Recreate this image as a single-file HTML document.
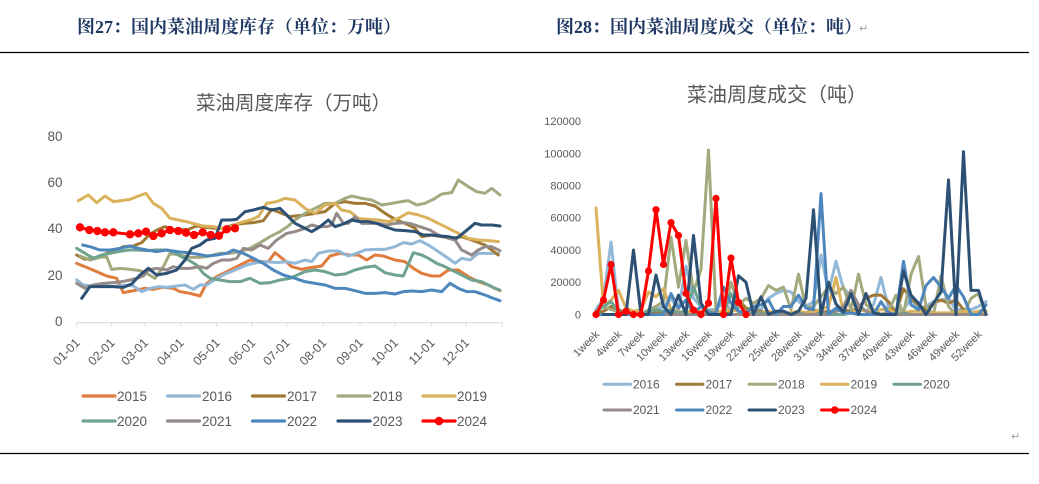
<!DOCTYPE html>
<html><head><meta charset="utf-8"><style>
html,body{margin:0;padding:0;background:#fff;}
svg{display:block;}
.ax{font-family:"Liberation Sans",sans-serif;fill:#595959;}
.hd{font-family:"Liberation Serif","Noto Serif CJK SC",serif;font-weight:bold;fill:#1f3864;font-size:18px;}
.tt{font-family:"Liberation Sans","Noto Sans CJK SC",sans-serif;fill:#595959;}
.s{fill:none;stroke-width:3;stroke-linejoin:round;stroke-linecap:round;vector-effect:non-scaling-stroke;}
</style></head><body>
<svg width="1039" height="484" viewBox="0 0 1039 484" xmlns="http://www.w3.org/2000/svg">
<rect width="1039" height="484" fill="#fff"/>
<!-- headers -->
<text class="hd" x="77" y="33">图27：国内菜油周度库存（单位：万吨）</text>
<text class="hd" x="556" y="33">图28：国内菜油周度成交（单位：吨）</text>
<text x="859" y="32" font-family="DejaVu Sans" font-size="11" fill="#999">↵</text>
<line x1="0" y1="52.5" x2="1029" y2="52.5" stroke="#000" stroke-width="1.2"/>
<line x1="0" y1="453.5" x2="1029" y2="453.5" stroke="#000" stroke-width="1.2"/>
<text x="1011" y="440" font-family="DejaVu Sans" font-size="11" fill="#999">↵</text>

<!-- LEFT CHART -->
<text class="tt" x="196" y="109.5" font-size="19.5">菜油周度库存（万吨）</text>
<g class="ax" font-size="13.5" text-anchor="end">
<text x="62.5" y="141">80</text>
<text x="62.5" y="187">60</text>
<text x="62.5" y="233">40</text>
<text x="62.5" y="280">20</text>
<text x="62.5" y="326">0</text>
</g>
<line x1="76.7" y1="322.7" x2="502.3" y2="322.7" stroke="#d9d9d9" stroke-width="1"/>
<g stroke="#d9d9d9" stroke-width="1">
<line x1="76.7" y1="322.7" x2="76.7" y2="326.5"/><line x1="111.7" y1="322.7" x2="111.7" y2="326.5"/>
<line x1="145" y1="322.7" x2="145" y2="326.5"/><line x1="180.7" y1="322.7" x2="180.7" y2="326.5"/>
<line x1="216.7" y1="322.7" x2="216.7" y2="326.5"/><line x1="252.3" y1="322.7" x2="252.3" y2="326.5"/>
<line x1="286.7" y1="322.7" x2="286.7" y2="326.5"/><line x1="323.3" y1="322.7" x2="323.3" y2="326.5"/>
<line x1="360" y1="322.7" x2="360" y2="326.5"/><line x1="395" y1="322.7" x2="395" y2="326.5"/>
<line x1="431.7" y1="322.7" x2="431.7" y2="326.5"/><line x1="466" y1="322.7" x2="466" y2="326.5"/>
<line x1="502.3" y1="322.7" x2="502.3" y2="326.5"/>
</g>
<g class="ax" font-size="12.5" text-anchor="end">
<text transform="translate(80.7,343.5) rotate(-45)">01-01</text>
<text transform="translate(115.7,343.5) rotate(-45)">02-01</text>
<text transform="translate(149,343.5) rotate(-45)">03-01</text>
<text transform="translate(184.7,343.5) rotate(-45)">04-01</text>
<text transform="translate(220.7,343.5) rotate(-45)">05-01</text>
<text transform="translate(256.3,343.5) rotate(-45)">06-01</text>
<text transform="translate(290.7,343.5) rotate(-45)">07-01</text>
<text transform="translate(327.3,343.5) rotate(-45)">08-01</text>
<text transform="translate(364,343.5) rotate(-45)">09-01</text>
<text transform="translate(399,343.5) rotate(-45)">10-01</text>
<text transform="translate(435.7,343.5) rotate(-45)">11-01</text>
<text transform="translate(470,343.5) rotate(-45)">12-01</text>
</g>
<g transform="translate(0,120) scale(0.333333)">
<polyline class="s" stroke="#e07c3e" points="230,430 260,442 290,455 320,468 350,475 370,518 410,510 435,505 460,508 490,502 520,505 540,515 570,520 600,528 620,490 650,470 680,455 710,440 750,420 780,425 805,425 825,398 850,418 875,440 905,448 935,442 965,438 990,408 1020,400 1050,405 1075,405 1100,420 1125,405 1150,408 1185,420 1215,425 1240,445 1265,460 1295,468 1320,468 1345,450 1375,450 1405,470 1435,485 1465,495 1485,505 1500,512"/>
<polyline class="s" stroke="#92b8d8" points="230,480 250,495 280,498 310,497 340,500 375,495 400,498 425,515 450,505 475,500 500,502 530,498 555,495 580,508 600,495 620,495 650,475 680,460 710,448 740,435 770,428 800,425 830,428 860,425 885,430 915,420 935,425 955,400 985,393 1015,393 1045,408 1070,400 1095,390 1125,388 1155,388 1185,380 1210,368 1235,372 1260,362 1285,375 1315,395 1345,415 1365,430 1385,415 1410,420 1435,400 1465,400 1495,400"/>
<polyline class="s" stroke="#a07935" points="230,405 255,418 290,412 320,400 350,390 370,380 400,378 425,368 450,342 475,328 495,320 515,328 540,330 565,328 590,318 620,322 650,325 670,325 700,315 730,310 760,308 790,302 815,268 840,278 870,290 885,288 915,285 945,280 975,275 1005,250 1035,245 1065,250 1095,250 1125,258 1155,280 1185,298 1215,310 1245,325 1265,350 1295,345 1325,350 1355,355 1385,350 1415,360 1455,375 1495,405"/>
<polyline class="s" stroke="#a3aa7e" points="240,408 270,420 300,412 320,410 335,448 360,445 390,448 420,452 440,460 465,475 490,440 510,400 540,405 570,412 600,412 630,408 660,400 690,400 720,395 750,385 780,368 810,350 840,335 865,318 885,300 915,280 945,265 975,250 1005,250 1035,235 1055,228 1085,235 1115,240 1145,255 1175,250 1205,245 1225,242 1250,255 1275,250 1300,238 1325,222 1355,218 1375,180 1405,200 1430,215 1455,220 1475,205 1500,225"/>
<polyline class="s" stroke="#dbb25c" points="235,242 265,225 290,248 315,228 340,245 365,242 390,238 415,228 438,220 460,250 485,265 510,295 535,300 560,305 585,312 610,318 640,320 660,325 690,322 720,308 750,300 775,290 800,250 830,245 855,235 885,240 915,265 945,280 975,255 1005,250 1025,270 1050,275 1075,295 1105,298 1135,300 1165,305 1195,295 1225,278 1255,285 1285,295 1315,310 1345,325 1375,340 1405,355 1435,360 1465,362 1495,365"/>
<polyline class="s" stroke="#6fa28f" points="230,385 255,400 280,415 305,405 330,400 355,395 385,390 410,390 440,392 470,390 500,390 520,395 540,408 565,420 590,435 610,460 630,475 660,480 690,485 720,485 750,475 780,490 810,488 840,480 870,475 885,468 915,455 945,450 975,455 1005,465 1035,462 1065,450 1095,442 1125,438 1155,458 1185,465 1210,468 1240,398 1265,405 1285,415 1310,430 1335,440 1365,455 1395,470 1415,480 1445,485 1465,495 1485,505 1500,510"/>
<polyline class="s" stroke="#958b88" points="230,490 255,505 280,495 310,490 340,488 365,485 390,480 410,475 430,468 445,450 470,445 500,450 520,440 540,445 570,445 600,440 620,445 640,430 665,420 690,420 710,415 730,385 755,390 780,375 805,385 830,360 860,340 885,335 915,325 935,315 955,320 980,320 995,315 1010,280 1030,310 1045,310 1065,290 1085,310 1105,310 1135,310 1160,315 1185,310 1215,308 1235,312 1265,322 1290,330 1315,345 1345,355 1365,360 1385,390 1415,405 1435,390 1455,380 1475,380 1500,392"/>
<polyline class="s" stroke="#4e87bd" points="248,375 270,380 300,390 330,390 360,385 390,378 415,385 440,390 470,395 500,390 530,395 560,398 590,402 620,408 650,405 680,400 700,390 730,400 760,415 790,430 820,450 850,465 885,475 915,485 945,490 975,495 1005,505 1035,505 1065,512 1095,520 1125,520 1155,518 1185,522 1210,515 1235,513 1265,515 1295,510 1325,515 1350,490 1375,505 1400,515 1425,515 1455,525 1480,535 1500,542"/>
<polyline class="s" stroke="#2c5175" points="245,535 270,500 305,500 340,500 370,502 395,492 420,465 445,445 470,465 500,460 530,450 555,420 575,385 600,375 620,360 645,355 665,300 690,300 710,298 735,275 760,270 790,262 815,270 840,265 855,280 885,310 915,325 935,335 960,320 985,300 1005,320 1030,312 1055,300 1080,305 1105,305 1130,310 1155,320 1185,330 1215,332 1245,335 1270,345 1295,345 1320,348 1345,350 1370,355 1395,335 1425,310 1445,315 1475,315 1500,318"/>
<polyline class="s" stroke="#ff0000" points="240,322 268,330 292,333 315,337 340,337 365,340 390,343 415,340 438,335 460,348 485,340 510,330 535,333 558,338 582,345 608,337 632,345 657,347 680,328 705,325"/>
<g fill="#ff0000">
<circle cx="240" cy="322" r="12.5"/><circle cx="268" cy="330" r="12.5"/><circle cx="292" cy="333" r="12.5"/>
<circle cx="315" cy="337" r="12.5"/><circle cx="340" cy="337" r="12.5"/><circle cx="390" cy="343" r="12.5"/>
<circle cx="415" cy="340" r="12.5"/><circle cx="438" cy="335" r="12.5"/><circle cx="460" cy="348" r="12.5"/>
<circle cx="485" cy="340" r="12.5"/><circle cx="510" cy="330" r="12.5"/><circle cx="535" cy="333" r="12.5"/>
<circle cx="558" cy="338" r="12.5"/><circle cx="582" cy="345" r="12.5"/><circle cx="608" cy="337" r="12.5"/>
<circle cx="632" cy="345" r="12.5"/><circle cx="657" cy="347" r="12.5"/><circle cx="680" cy="328" r="12.5"/>
<circle cx="705" cy="325" r="12.5"/>
</g>
</g>
<!-- left legend -->
<g stroke-width="3.2" stroke-linecap="round">
<line x1="83" y1="396" x2="115" y2="396" stroke="#e07c3e"/>
<line x1="167.5" y1="396" x2="199.5" y2="396" stroke="#92b8d8"/>
<line x1="252.5" y1="396" x2="284.5" y2="396" stroke="#a07935"/>
<line x1="338" y1="396" x2="370" y2="396" stroke="#a3aa7e"/>
<line x1="423" y1="396" x2="455" y2="396" stroke="#dbb25c"/>
<line x1="83" y1="421" x2="115" y2="421" stroke="#6fa28f"/>
<line x1="167.5" y1="421" x2="199.5" y2="421" stroke="#958b88"/>
<line x1="252.5" y1="421" x2="284.5" y2="421" stroke="#4e87bd"/>
<line x1="338" y1="421" x2="370" y2="421" stroke="#2c5175"/>
<line x1="423" y1="421" x2="455" y2="421" stroke="#ff0000"/>
</g>
<circle cx="439" cy="421" r="4.3" fill="#ff0000"/>
<g class="ax" font-size="13.5">
<text x="117" y="401">2015</text><text x="202" y="401">2016</text><text x="287" y="401">2017</text>
<text x="372.5" y="401">2018</text><text x="457" y="401">2019</text>
<text x="117" y="426">2020</text><text x="202" y="426">2021</text><text x="287" y="426">2022</text>
<text x="372.5" y="426">2023</text><text x="457" y="426">2024</text>
</g>

<!-- RIGHT CHART -->
<text class="tt" x="687" y="101.5" font-size="20">菜油周度成交（吨）</text>
<g class="ax" font-size="11" text-anchor="end">
<text x="581" y="125">120000</text>
<text x="581" y="157.3">100000</text>
<text x="581" y="189.7">80000</text>
<text x="581" y="221.7">60000</text>
<text x="581" y="254">40000</text>
<text x="581" y="286">20000</text>
<text x="581" y="318.5">0</text>
</g>
<line x1="592" y1="314.5" x2="990" y2="314.5" stroke="#d9d9d9" stroke-width="1"/>
<g class="ax" font-size="11" text-anchor="end">
<text transform="translate(600,335) rotate(-45)">1week</text>
<text transform="translate(622.5,335) rotate(-45)">4week</text>
<text transform="translate(645,335) rotate(-45)">7week</text>
<text transform="translate(667.5,335) rotate(-45)">10week</text>
<text transform="translate(690,335) rotate(-45)">13week</text>
<text transform="translate(712.5,335) rotate(-45)">16week</text>
<text transform="translate(735,335) rotate(-45)">19week</text>
<text transform="translate(757.5,335) rotate(-45)">22week</text>
<text transform="translate(780,335) rotate(-45)">25week</text>
<text transform="translate(802.5,335) rotate(-45)">28week</text>
<text transform="translate(825,335) rotate(-45)">31week</text>
<text transform="translate(847.5,335) rotate(-45)">34week</text>
<text transform="translate(870,335) rotate(-45)">37week</text>
<text transform="translate(892.5,335) rotate(-45)">40week</text>
<text transform="translate(915,335) rotate(-45)">43week</text>
<text transform="translate(937.5,335) rotate(-45)">46week</text>
<text transform="translate(960,335) rotate(-45)">49week</text>
<text transform="translate(982.5,335) rotate(-45)">52week</text>
</g>
<g transform="translate(588.5,314.5) scale(7.5,-1.612)">
<polyline class="s" stroke="#92b8d8" points="1,3 2,10 3,45 4,2 5,0 6,0 7,0 8,2 9,3 10,5 11,10 12,3 13,30 14,10 15,5 16,3 17,3 18,8 19,3 20,5 21,3 22,5 23,3 24,10 25,13 26,15 27,14 28,8 29,5 30,8 31,37 32,14 33,33 34,16 35,12 36,5 37,2 38,6 39,23 40,4 41,2 42,3 43,10 44,3 45,5 46,8 47,9 48,10 49,3 50,3 51,3 52,5 53,8"/>
<polyline class="s" stroke="#a07935" points="1,1 2,2 3,5 4,3 5,1 6,0 7,0 8,2 9,1 10,2 11,1 12,2 13,1 14,3 15,1 16,2 17,1 18,2 19,1 20,9 21,4 22,2 23,2 24,1 25,2 26,1 27,1 28,2 29,1 30,3 31,1 32,2 33,2 34,3 35,2 36,4 37,10 38,12 39,12 40,8 41,1 42,16 43,10 44,6 45,3 46,7 47,9 48,7 49,9 50,3 51,0 52,2 53,2"/>
<polyline class="s" stroke="#a3aa7e" points="1,2 2,5 3,3 4,2 5,0 6,2 7,0 8,3 9,5 10,8 11,48 12,17 13,46 14,14 15,28 16,102 17,2 18,0 19,20 20,6 21,10 22,7 23,10 24,18 25,15 26,17 27,3 28,25 29,4 30,5 31,11 32,17 33,13 34,17 35,3 36,25 37,6 38,3 39,0 40,2 41,12 42,0 43,25 44,36 45,5 46,0 47,24 48,5 49,0 50,0 51,10 52,13 53,0"/>
<polyline class="s" stroke="#dbb25c" points="1,66 2,5 3,9 4,15 5,4 6,2 7,3 8,14 9,11 10,16 11,3 12,2 13,1 14,3 15,2 16,1 17,2 18,2 19,3 20,2 21,2 22,1 23,1 24,2 25,1 26,1 27,1 28,2 29,1 30,2 31,3 32,5 33,23 34,1 35,1 36,3 37,2 38,2 39,3 40,3 41,1 42,1 43,2 44,2 45,1 46,1 47,1 48,1 49,1 50,2 51,1 52,2 53,2"/>
<polyline class="s" stroke="#6fa28f" points="1,2 2,5 3,8 4,2 5,0 6,0 7,0 8,2 9,3 10,2 11,3 12,1 13,2 14,17 15,5 16,2 17,0 18,0 19,13 20,2 21,0 22,1 23,1 24,0 25,1 26,0 27,0 28,1 29,0 30,0 31,1 32,0 33,0 34,0 35,1 36,0 37,0 38,0 39,0 40,0 41,0 42,1 43,0 44,0 45,0 46,0 47,0 48,0 49,0 50,0 51,0 52,0 53,0"/>
<polyline class="s" stroke="#958b88" points="1,0 10,0 20,0 30,0 32,0 33,2 34,5 35,15 36,6 37,2 38,0 40,0 50,0 53,0"/>
<polyline class="s" stroke="#4e87bd" points="1,0 2,0 3,0 4,0 5,0 6,0 7,0 8,0 9,0 10,0 11,13 12,4 13,9 14,1 15,5 16,1 17,1 18,17 19,7 20,2 21,1 22,5 23,6 24,9 25,0 26,5 27,5 28,12 29,4 30,3 31,75 32,0 33,4 34,1 35,1 36,0 37,0 38,0 39,8 40,1 41,0 42,33 43,6 44,3 45,18 46,23 47,17 48,10 49,18 50,11 51,0 52,0 53,6"/>
<polyline class="s" stroke="#2c5175" points="2,0 3,0 4,0 5,0 6,40 7,0 8,0 9,24.5 10,5 11,0 12,12 13,0 14,49 15,7 16,0 17,0 18,0 19,0 20,24 21,20 22,0 23,11 24,0 25,2 26,2 27,0 28,2 29,10 30,65 31,0 32,20 33,6.5 34,1.5 35,13 36,0 37,13 38,1 39,0 40,0 41,0 42,27 43,12 44,7 45,0 46,7 47,14 48,83.5 49,0 50,101 51,15 52,15 53,0"/>
<polyline class="s" stroke="#ff0000" points="1,0 2,9 3,31 4,0 5,2 6,0 7,0 8,27 9,65 10,31 11,57 12,49 13,13 14,3 15,0 16,7 17,72 18,0 19,35 20,7.5 21,0"/>
</g>
<g fill="#ff0000">
<circle cx="596" cy="314.5" r="3.6"/><circle cx="603.5" cy="300" r="3.6"/><circle cx="611" cy="264.5" r="3.6"/>
<circle cx="618.5" cy="314.5" r="3.6"/><circle cx="626" cy="311.3" r="3.6"/><circle cx="633.5" cy="314.5" r="3.6"/>
<circle cx="641" cy="314.5" r="3.6"/><circle cx="648.5" cy="271" r="3.6"/><circle cx="656" cy="209.7" r="3.6"/>
<circle cx="663.5" cy="264.5" r="3.6"/><circle cx="671" cy="222.6" r="3.6"/><circle cx="678.5" cy="235.5" r="3.6"/>
<circle cx="686" cy="293.5" r="3.6"/><circle cx="693.5" cy="310" r="3.6"/><circle cx="701" cy="314.5" r="3.6"/>
<circle cx="708.5" cy="303.2" r="3.6"/><circle cx="716" cy="198.4" r="3.6"/><circle cx="723.5" cy="314.5" r="3.6"/>
<circle cx="731" cy="258.1" r="3.6"/><circle cx="738.5" cy="302.4" r="3.6"/><circle cx="746" cy="314.5" r="3.6"/>
</g>
<!-- right legend -->
<g stroke-width="3" stroke-linecap="round">
<line x1="604" y1="384.3" x2="630.5" y2="384.3" stroke="#92b8d8"/>
<line x1="676.5" y1="384.3" x2="703" y2="384.3" stroke="#a07935"/>
<line x1="749" y1="384.3" x2="775.5" y2="384.3" stroke="#a3aa7e"/>
<line x1="821.5" y1="384.3" x2="848" y2="384.3" stroke="#dbb25c"/>
<line x1="894" y1="384.3" x2="920.5" y2="384.3" stroke="#6fa28f"/>
<line x1="604" y1="410" x2="630.5" y2="410" stroke="#958b88"/>
<line x1="676.5" y1="410" x2="703" y2="410" stroke="#4e87bd"/>
<line x1="749" y1="410" x2="775.5" y2="410" stroke="#2c5175"/>
<line x1="821.5" y1="410" x2="848" y2="410" stroke="#ff0000"/>
</g>
<circle cx="834.7" cy="410" r="3.8" fill="#ff0000"/>
<g class="ax" font-size="12">
<text x="633" y="388.5">2016</text><text x="705.5" y="388.5">2017</text><text x="778" y="388.5">2018</text>
<text x="850.5" y="388.5">2019</text><text x="923" y="388.5">2020</text>
<text x="633" y="414.2">2021</text><text x="705.5" y="414.2">2022</text><text x="778" y="414.2">2023</text>
<text x="850.5" y="414.2">2024</text>
</g>
</svg>
</body></html>
